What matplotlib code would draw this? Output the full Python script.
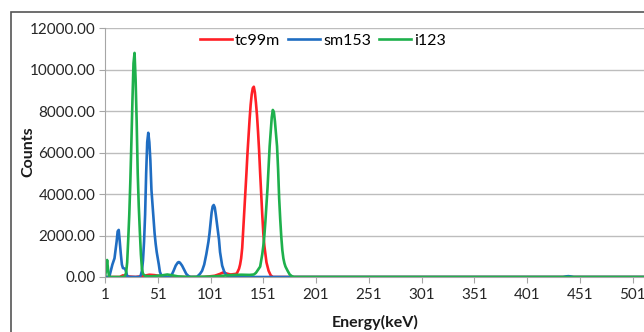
import matplotlib
matplotlib.use("Agg")
import matplotlib.pyplot as plt
from matplotlib.patches import Rectangle

plt.rcParams['font.family'] = ['Lato', 'DejaVu Sans']

# spectrum data (channel -> counts)
tc99m_ch = [1, 15, 18, 22, 30, 38, 43, 48, 53, 58, 65, 95, 105, 110, 113, 116, 120, 125, 126,
            128, 129, 130, 131, 132, 133, 134, 135, 136, 138, 139, 140, 141, 142, 143, 144, 145,
            146, 147, 148, 149, 150, 151, 152, 154, 156, 158, 160, 560]
tc99m_counts = [0, 0, 80, 30, 0, 60, 110, 90, 50, 0, 0, 0, 60, 150, 220, 170, 120, 150, 180,
                400, 600, 900, 1400, 2300, 3200, 4100, 5000, 5970, 7600, 8300, 8800, 9100, 9170,
                8900, 8400, 7800, 7000, 6100, 5000, 4000, 3000, 2100, 1500, 700, 300, 80, 0, 0]

sm153_ch = [1, 5, 7, 8, 10, 12, 13, 14, 15, 16, 17, 18, 20, 21, 22, 24, 34, 35, 36, 37, 38, 39,
            40, 41, 42, 43, 44, 45, 46, 47, 48, 49, 50, 52, 53, 55, 62, 64, 66, 68, 70, 71, 72,
            74, 76, 78, 80, 82, 88, 91, 93, 95, 97, 99, 100, 101, 102, 103, 104, 105, 106, 107,
            108, 109, 110, 112, 114, 116, 118, 435, 438, 440, 442, 445, 560]
sm153_counts = [0, 0, 400, 600, 900, 1700, 2200, 2270, 1700, 1100, 600, 430, 400, 250, 50, 0,
                0, 100, 300, 800, 1700, 3000, 5000, 6500, 6950, 6500, 5600, 4200, 3500, 2800,
                2100, 1600, 1200, 600, 250, 0, 0, 80, 300, 550, 700, 720, 690, 550, 350, 150, 50,
                0, 0, 150, 300, 600, 1100, 1700, 2100, 2600, 3100, 3400, 3470, 3350, 3000, 2600,
                2200, 1800, 1200, 550, 250, 100, 0, 0, 30, 40, 30, 0, 0]

i123_ch = [1, 2, 3, 4, 5, 19, 20, 21, 22, 23, 24, 25, 26, 27, 28, 29, 30, 31, 32, 33, 34, 35,
           36, 37, 39, 45, 55, 60, 65, 70, 80, 100, 110, 120, 130, 138, 142, 144, 146, 148, 150,
           151, 152, 153, 154, 155, 156, 157, 158, 159, 160, 161, 162, 163, 164, 165, 166, 167,
           168, 169, 170, 171, 172, 174, 176, 178, 180, 560]
i123_counts = [0, 350, 820, 300, 0, 0, 80, 200, 700, 1800, 3000, 4600, 6500, 8500, 10300, 10800,
               9500, 7500, 5000, 3400, 2200, 1100, 400, 150, 50, 30, 80, 120, 80, 30, 0, 20, 50,
               90, 110, 100, 120, 200, 350, 500, 1100, 1500, 2000, 2700, 3500, 4300, 5300, 6300,
               7000, 7700, 8050, 7950, 7500, 6900, 6300, 5200, 3800, 2800, 1950, 1300, 900, 660,
               500, 300, 120, 40, 0, 0]

x_ticks = list(range(1, 502, 50))
y_ticks = [0, 2000, 4000, 6000, 8000, 10000, 12000]

fig = plt.figure(figsize=(6.44, 3.32), dpi=100)
W, H = 644, 332
ax = fig.add_axes([105 / W, 1 - 277 / H, 590 / W, 249 / H])

ax.plot(tc99m_ch, tc99m_counts, color='#FF1F26', lw=1.9, label='tc99m')
ax.plot(sm153_ch, sm153_counts, color='#1F6DC2', lw=1.9, label='sm153')
ax.plot(i123_ch, i123_counts, color='#1EB04C', lw=1.9, label='i123')

ax.set_xlim(1, 560)
ax.set_ylim(0, 12000)
ax.set_xticks(x_ticks)
ax.set_yticks(y_ticks)
ax.set_yticklabels([f'{v:.2f}' for v in y_ticks])
ax.grid(axis='y', color='#BDBDBD', lw=1)
ax.set_axisbelow(True)
for s in ['top', 'right']:
    ax.spines[s].set_visible(False)
for s in ['left', 'bottom']:
    ax.spines[s].set_color('#A6A6A6')
ax.tick_params(axis='both', labelsize=11, colors='#A6A6A6', labelcolor='#262626', length=4)
ax.tick_params(axis='x', pad=4)
ax.tick_params(axis='y', pad=3)

fig.text(28 / W, 1 - 152 / H, 'Counts', rotation=90, ha='center', va='center',
         fontsize=11.5, fontweight='bold', color='#1a1a1a')
fig.text(375 / W, 1 - 322 / H, 'Energy(keV)', ha='center', va='center',
         fontsize=11.5, fontweight='bold', color='#1a1a1a')

ax.legend(loc='center left', bbox_to_anchor=(200 / W, 1 - 41 / H), bbox_transform=fig.transFigure,
          ncol=3, frameon=False, fontsize=11.5, handlelength=2.0, handletextpad=0.2,
          columnspacing=0.5, borderpad=0, borderaxespad=0)

# chart area border (runs off the right and bottom edges)
fig.patches.append(Rectangle((11 / W, -0.1), 1.2, 1 - 12 / H + 0.1, transform=fig.transFigure,
                             fill=False, edgecolor='#555555', lw=1.2))

fig.savefig('out.png', dpi=100)
